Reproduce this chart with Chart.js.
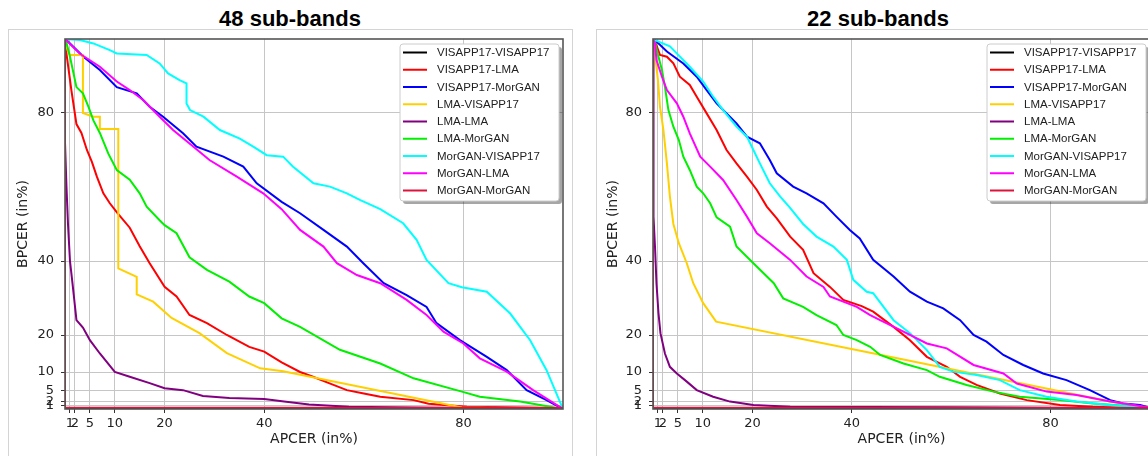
<!DOCTYPE html>
<html>
<head>
<meta charset="utf-8">
<script src="https://cdn.jsdelivr.net/npm/chart.js@4.4.1/dist/chart.umd.min.js"></script>
<style>
    html, body { margin: 0; padding: 0; background: #fff; }
    body { width: 1148px; height: 456px; overflow: hidden; position: relative; }
    .frame { position: absolute; top: 29px; width: 563px; height: 440px;
             border: 1px solid #d4d4d4; border-bottom: none; }
    .title { position: absolute; top: 8px; width: 564px; text-align: center;
             font: bold 22px 'Liberation Sans', Arial, sans-serif; line-height: 22px; color: #000; }
    canvas { position: absolute; top: 0; }
</style>
</head>
<body>
<div class="frame" style="left:8px"></div>
<div class="frame" style="left:596px"></div>
<div class="title" style="left:8px">48 sub-bands</div>
<div class="title" style="left:596px">22 sub-bands</div>
<canvas id="c48" width="580" height="456" style="left:0"></canvas>
<canvas id="c22" width="580" height="456" style="left:580px"></canvas>
<script>
/*
 *  two EER-style curves panels, APCER vs BPCER
 */

var SERIES = ['VISAPP17-VISAPP17', 'VISAPP17-LMA', 'VISAPP17-MorGAN', 'LMA-VISAPP17', 'LMA-LMA',
              'LMA-MorGAN', 'MorGAN-VISAPP17', 'MorGAN-LMA', 'MorGAN-MorGAN'];
var COLORS = ['#000000', '#ff0000', '#0000ff', '#ffd000', '#800080',
              '#00f000', '#00ffff', '#ff00ff', '#dc143c'];
var TICKS  = [1, 2, 5, 10, 20, 40, 80];
var TITLES = ['48 sub-bands', '22 sub-bands'];

/* ---- 48 sub-bands : [APCER, BPCER] ---- */
var visVis48 = [[0,100],[0,0],[100,0]];
var visLma48 = [[0,100],[0.3,96],[1.3,86],[2.3,77],[3.3,74.6],[4.4,70],[5.4,66.8],[6.4,62.8],[7.7,58.3],[9,55.6],
                [10.5,53],[13,49],[15,44],[17,39.4],[20,33],[22.4,30.4],[25,25.4],[28.5,23.2],[32.5,20],[37,16.8],
                [40,15.5],[43.5,12.6],[47.2,10],[49.8,8.7],[53,7],[56.6,5.1],[60,4.2],[63.3,3.3],[70,2.4],[73,1.4],
                [80.7,0.6],[100,0.3]];
var visMor48 = [[0,100],[0.3,99.7],[3.7,95.2],[7,91.6],[10.4,87],[14.4,85.3],[17,81.7],[19.7,79],[23.7,74.5],[26.4,70.9],
                [31.8,68.2],[35.8,65.5],[38.5,61],[43.5,56],[47.2,52.9],[51.9,48.4],[56.6,43.9],[59.9,39.4],[64,34],[68.6,30.8],
                [72.6,27.6],[74.6,23.2],[79.3,18.6],[84.7,14.1],[88.7,10.5],[92.7,5.1],[96.7,2.4],[100,0]];
var lmaVis48 = [[0,100],[0.5,97],[1,95.7],[3.6,95.7],[3.6,80],[5.7,79],[7,79],[7,75.7],[10.7,75.7],[10.7,38],
                [14.4,35.7],[14.4,31],[17.7,29],[21.4,24.6],[27,20.5],[32.5,15.1],[39.2,11],[43.8,10.2],[79.7,0.4],[100,0]];
var lmaLma48 = [[0,100],[0,72],[0.3,60],[0.6,50],[1,40],[1.5,34],[2.3,24],[3.6,22],[5,18.6],[7,15],
                [10,10],[13,8.7],[17,7],[20,5.6],[23.7,5.1],[27.7,3.5],[33,3],[40,2.7],[44,2],[49,1.2],
                [57,0.6],[70,0.4],[100,0]];
var lmaMor48 = [[0,100],[0.3,99],[1,95.2],[2.3,87],[3.6,85.3],[4.7,81.7],[5.7,78],[7,74.6],[8.7,69],[10.4,64.6],
                [13,62],[15,58.3],[16.4,54.7],[19,51],[20,49.7],[22.4,47.5],[25,41],[28.5,37.6],[33,34.4],[37,30.4],
                [40,28.6],[43.5,24.5],[47.2,22.2],[55.2,16],[63.3,12.3],[70,8.3],[79.7,4.7],[83.3,3.3],[91.4,2],[100,0]];
var morVis48 = [[0,100],[3,99.7],[5.7,98.8],[9,97],[10.4,96.1],[16.4,95.7],[19,93.4],[20.7,90.7],[23,88.9],[24.4,88],
                [24.4,82.6],[25.1,80.8],[27.8,79],[31.1,75.4],[35.1,73.1],[37.8,70.9],[40.5,68.6],[43.8,68.2],[45.8,65.5],[49.9,61],
                [53.2,60.1],[56.6,58.3],[59.2,56.5],[63.3,54],[67.9,50.2],[70.6,45.7],[72.6,40.3],[77,34],[79.7,32.9],[84.7,31.7],
                [89.4,25.8],[93.4,18.6],[96.7,10.5],[100,0]];
var morLma48 = [[0,100],[3,96],[7,92.5],[10.4,88.5],[13,86.2],[15.7,83.5],[19,79],[21.7,75.4],[25.8,70.9],[29,67.3],
                [34.5,62.8],[39.8,58.3],[43.5,54],[47.2,48.4],[51.9,43.9],[54.6,39.4],[58.6,36.2],[63.3,34],[68.6,29.5],[72.6,25.4],
                [76,20.9],[80,17.7],[83.3,13.7],[88.7,10.1],[94,5.1],[100,0]];
var morMor48 = [[0,100],[0,0.4],[100,0.3]];

/* ---- 22 sub-bands ---- */
var visVis22 = [[0,100],[0,0],[100,0]];
var visLma22 = [[0,100],[0.4,99.3],[1.4,95.7],[2.8,95.2],[4.1,93.4],[5.4,89.8],[7.4,87.6],[8.8,84.4],[10.8,79.9],[12.8,75.4],
                [14.8,70],[16.8,66.4],[18.9,62.8],[20.9,59.2],[22.9,54.7],[24.9,51.5],[27.6,46.6],[30.2,43],[32.3,36.7],[35.6,33],
                [38.3,29.5],[42,27.8],[44.3,26.3],[48.4,22.2],[51.7,18.6],[55.1,14.1],[59.1,11.4],[61.8,8.7],[65.1,6.5],[69.8,4.2],
                [75.2,2.4],[81.9,1.1],[88.5,0.6],[100,0.2]];
var visMor22 = [[0,100],[0.4,99.7],[2.8,96.6],[6.1,93.4],[8.8,89.8],[10.8,86.2],[12.8,82.6],[14.8,79.9],[16.8,77.2],[18.9,73.6],
                [21.5,71.8],[23.5,67.3],[24.9,63.7],[28.2,60.1],[30.9,58.3],[34.3,55.6],[36.9,52],[39.6,48.4],[41.6,46.1],[44.3,40.3],
                [48.4,35.8],[51.7,31.7],[55.1,29],[58.4,27.2],[61.8,24],[64.5,20],[67.1,18.2],[70.5,14.6],[74.5,11.9],[78.5,9.6],
                [83.2,7.8],[87.9,5.1],[92,2.4],[94.6,1.5],[98,1.1],[100,0.3]];
var lmaVis22 = [[0,100],[0.4,99],[0.6,93.4],[1,88.9],[1.4,81.7],[2.1,75.4],[2.8,66.4],[3.4,57.4],[4.1,50],[5.2,44.8],
                [6.8,39.4],[8.1,34],[10.1,28.6],[12.7,23.6],[43.7,15.2],[92,2],[100,0.2]];
var lmaLma22 = [[0,100],[0,65],[0.2,52],[0.4,43.9],[0.7,34],[1.1,25.9],[1.5,20.5],[2.4,15],[3.4,11.4],[4.8,9.6],
                [6.8,7.4],[8.8,5.1],[12.1,3.3],[15.5,2],[20.2,1.1],[27.6,0.6],[60,0.5],[100,0.2]];
var lmaMor22 = [[0,100],[0.4,99],[1.1,95.2],[1.8,91.6],[2.4,87.1],[3.1,80.8],[4.1,76.3],[5.2,72.7],[6.1,68.2],[7.4,64.6],
                [8.8,60.1],[10.1,58.3],[11.5,55.6],[12.8,51.8],[15.5,49.3],[16.8,43.9],[20.2,39.4],[24.3,34],[26.2,29.9],[30.2,27.6],
                [32.9,25.4],[36.9,22.7],[38.3,20],[41,18.6],[43.7,16.8],[45.7,14.6],[50.4,12.3],[55.1,10.5],[57.7,8.7],[63.1,6.5],
                [68.5,4.7],[73.8,3.3],[81.9,2.4],[88.5,1.5],[100,0.4]];
var morVis22 = [[0,100],[0.4,99.7],[3.4,98],[7.4,92.5],[10.1,88.5],[12.1,84.4],[14.1,80.8],[16.8,76.3],[18.9,73.6],[20.2,70],
                [21.5,66.4],[23.5,61],[25.6,57.4],[27.5,54.5],[30.2,50],[32.9,46.6],[36.3,43.9],[39,40.3],[40.3,34.9],[43,31.7],
                [44.3,31.3],[48.4,24],[51.7,20.5],[55.1,15.9],[57.7,11.4],[60.4,10.1],[65.1,9.2],[69.8,7.8],[73.8,5.1],[79.2,3.3],
                [85.2,2],[92,1.1],[100,0.3]];
var morLma22 = [[0,100],[0.4,98.8],[0.7,94.3],[1.8,89.8],[2.8,86.2],[4.8,82.6],[6.1,79],[7.4,74.5],[9.5,68.2],[11.5,65.5],
                [14.1,61.9],[16.8,56.5],[18.9,52],[20.9,47.5],[23.5,44.8],[27.6,40.3],[30.9,35.8],[34.3,33],[35.6,30.4],[41,27.6],
                [43.7,25.4],[45.7,24],[49.7,21.4],[55.1,17.7],[59.1,16.4],[64.5,11.9],[70.5,9.6],[73.2,6.9],[79.2,4.7],[85.2,3.8],
                [92,2],[100,0.4]];
var morMor22 = [[0,100],[0,0.4],[100,0.3]];

var Panels = (function () {

    var TICK_FONT  = { family: "'DejaVu Sans', sans-serif", size: 13 };
    var TITLE_FONT = { family: "'DejaVu Sans', sans-serif", size: 14 };

    function toPoints(arr) {
        return arr.map(function (p) { return { x: p[0], y: p[1] }; });
    }

    function fixedTicks(scale) {
        scale.ticks = TICKS.map(function (v) { return { value: v }; });
    }

    // matplotlib-like spines + legend with shadow, inside the axes
    var boxPlugin = {
        id: 'box',
        afterDatasetsDraw: function (chart) {
            var a = chart.chartArea, ctx = chart.ctx;
            ctx.save();
            ctx.strokeStyle = '#555555';
            ctx.lineWidth = 1.6;
            ctx.strokeRect(a.left, a.top, a.right - a.left, a.bottom - a.top);
            ctx.restore();
        },
        afterDraw: function (chart) {
            var a = chart.chartArea, ctx = chart.ctx;
            var w = 159, h = 157, x0 = a.right - 4 - w, y0 = a.top + 5;

            function rr(x, y, ww, hh, r) {
                ctx.beginPath();
                ctx.moveTo(x + r, y);
                ctx.lineTo(x + ww - r, y);
                ctx.arcTo(x + ww, y, x + ww, y + r, r);
                ctx.lineTo(x + ww, y + hh - r);
                ctx.arcTo(x + ww, y + hh, x + ww - r, y + hh, r);
                ctx.lineTo(x + r, y + hh);
                ctx.arcTo(x, y + hh, x, y + hh - r, r);
                ctx.lineTo(x, y + r);
                ctx.arcTo(x, y, x + r, y, r);
                ctx.closePath();
            }

            ctx.save();
            ctx.fillStyle = 'rgba(0,0,0,0.35)';
            rr(x0 + 3, y0 + 3, w, h, 3);
            ctx.fill();
            ctx.fillStyle = '#ffffff';
            rr(x0, y0, w, h, 3);
            ctx.fill();
            ctx.strokeStyle = '#cccccc';
            ctx.lineWidth = 1;
            ctx.stroke();

            ctx.font = "11.5px 'Liberation Sans', Arial, sans-serif";
            ctx.textBaseline = 'middle';
            chart.data.datasets.forEach(function (ds, i) {
                var y = y0 + 8.5 + i * 17.25;
                ctx.strokeStyle = ds.borderColor;
                ctx.lineWidth = 2;
                ctx.beginPath();
                ctx.moveTo(x0 + 3, y);
                ctx.lineTo(x0 + 27, y);
                ctx.stroke();
                ctx.fillStyle = '#222222';
                ctx.fillText(ds.label, x0 + 37, y + 0.5);
            });
            ctx.restore();
        }
    };

    function render(canvasId, series, yAxisWidth, yTitlePad, rightPad) {
        var datasets = series.map(function (arr, i) {
            return {
                label: SERIES[i],
                data: toPoints(arr),
                borderColor: COLORS[i],
                backgroundColor: COLORS[i],
                borderWidth: 2,
                pointRadius: 0,
                tension: 0,
                fill: false,
                order: SERIES.length - i
            };
        });

        var axis = function (titleText, pad) {
            return {
                type: 'linear',
                min: 0,
                max: 100,
                afterBuildTicks: fixedTicks,
                grid:  { color: '#c6c6c6', lineWidth: 1, tickLength: 4, tickColor: '#333333', tickWidth: 1 },
                border: { display: false },
                ticks: { color: '#222222', font: TICK_FONT, autoSkip: false, maxRotation: 0, padding: pad,
                         callback: function (v) { return String(v); } },
                title: { display: true, text: titleText, color: '#222222', font: TITLE_FONT }
            };
        };

        var x = axis('APCER (in%)', 3);
        x.title.padding = { top: 0, bottom: 8 };
        x.afterFit = function (s) { s.height = 47; };

        var y = axis('BPCER (in%)', 7);
        y.title.padding = { top: yTitlePad, bottom: 0 };
        y.afterFit = function (s) { s.width = yAxisWidth; };

        new Chart(document.getElementById(canvasId).getContext('2d'), {
            type: 'line',
            data: { datasets: datasets },
            options: {
                responsive: false,
                animation: false,
                layout: { padding: { left: 0, top: 39, right: rightPad, bottom: 0 } },
                plugins: { legend: { display: false }, title: { display: false }, tooltip: { enabled: false } },
                scales: { x: x, y: y }
            },
            plugins: [boxPlugin]
        });
    }

    return { render: render };

})();

Panels.render('c48', [visVis48, visLma48, visMor48, lmaVis48, lmaLma48, lmaMor48, morVis48, morLma48, morMor48], 65, 15, 17);
Panels.render('c22', [visVis22, visLma22, visMor22, lmaVis22, lmaLma22, lmaMor22, morVis22, morLma22, morMor22], 73, 25, 10);
</script>
</body>
</html>
